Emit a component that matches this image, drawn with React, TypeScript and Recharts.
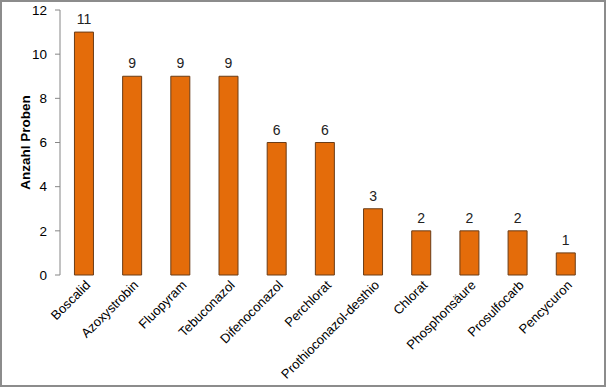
import { Bar, BarChart, LabelList, XAxis, YAxis } from "recharts";

const WIRKSTOFFE = [
  "Boscalid",
  "Azoxystrobin",
  "Fluopyram",
  "Tebuconazol",
  "Difenoconazol",
  "Perchlorat",
  "Prothioconazol-desthio",
  "Chlorat",
  "Phosphonsäure",
  "Prosulfocarb",
  "Pencycuron",
];

const ANZAHL_PROBEN = [11, 9, 9, 9, 6, 6, 3, 2, 2, 2, 1];

const Y_TICKS = [0, 2, 4, 6, 8, 10, 12];

const daten = WIRKSTOFFE.map((name, i) => ({ name, proben: ANZAHL_PROBEN[i], pos: i }));
const GRENZEN = Array.from({ length: WIRKSTOFFE.length + 1 }, (_, i) => i);

const ORANGE = "#E46C0A";
const ACHSE = "#868686";
const SCHRIFT = "'Liberation Sans', Arial, sans-serif";

function KategorieTick({ x, y, payload }: any) {
  return (
    <g transform={`translate(${x + 2},${y - 2})`}>
      <text
        textAnchor="end"
        transform="rotate(-45)"
        dy={7}
        fontSize={13}
        fontFamily={SCHRIFT}
        fill="#000"
      >
        {payload.value}
      </text>
    </g>
  );
}

export default function App() {
  return (
    <div
      style={{
        position: "fixed",
        left: 0,
        top: 0,
        width: 606,
        height: 387,
        border: "2px solid #8c8c8c",
        boxSizing: "border-box",
        background: "#fff",
      }}
    >
      <BarChart
        width={602}
        height={383}
        data={daten}
        margin={{ top: 8, right: 14, left: 0, bottom: 4 }}
        barCategoryGap="30%"
        style={{ fontFamily: SCHRIFT }}
      >
        <XAxis
          xAxisId="grenzen"
          type="number"
          dataKey="pos"
          domain={[0, WIRKSTOFFE.length]}
          ticks={GRENZEN}
          tick={false}
          tickSize={5}
          height={0}
          stroke={ACHSE}
          allowDataOverflow
        />
        <XAxis
          dataKey="name"
          interval={0}
          axisLine={false}
          tickLine={false}
          tick={<KategorieTick />}
          height={106}
        />
        <YAxis
          width={58}
          domain={[0, 12]}
          ticks={Y_TICKS}
          tickSize={5}
          tickMargin={8}
          stroke={ACHSE}
          tick={{ fill: "#000", fontSize: 13.5, fontFamily: SCHRIFT }}
          label={{
            value: "Anzahl Proben",
            angle: -90,
            position: "center",
            dx: -6,
            style: { fontWeight: "bold", fontSize: 13.5, fill: "#000", fontFamily: SCHRIFT },
          }}
        />
        <Bar dataKey="proben" fill={ORANGE} stroke="#6a3c17" strokeWidth={1} isAnimationActive={false}>
          <LabelList dataKey="proben" position="top" offset={8} fontSize={14} fill="#222" fontFamily={SCHRIFT} />
        </Bar>
      </BarChart>
    </div>
  );
}
